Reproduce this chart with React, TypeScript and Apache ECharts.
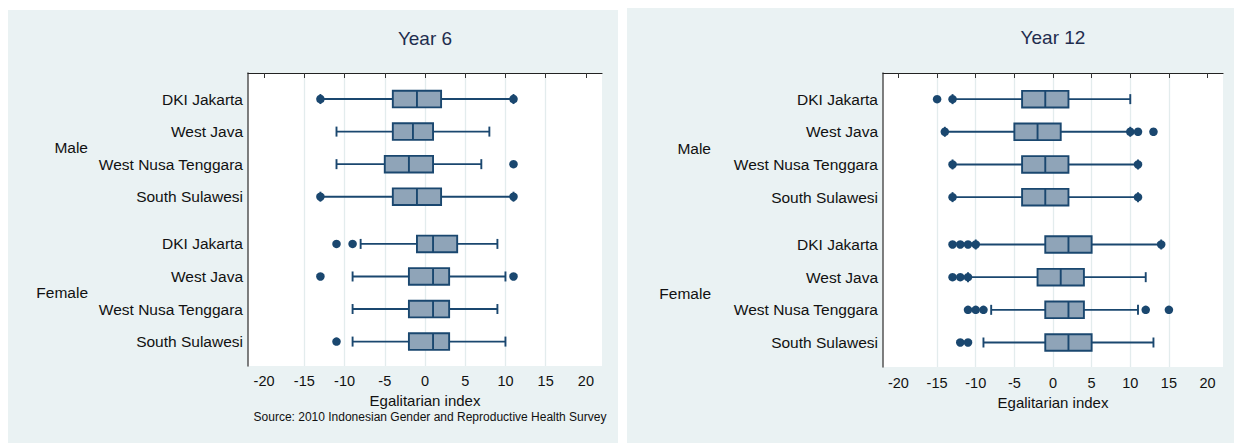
import React, { useEffect, useRef } from "react";
import * as echarts from "echarts";

// Row and group labels
const regions = ["DKI Jakarta", "West Java", "West Nusa Tenggara", "South Sulawesi"];
const sexes = ["Male", "Female"];
const panelTitles = ["Year 6", "Year 12"];
const axisTitle = "Egalitarian index";
const sourceNote = "Source: 2010 Indonesian Gender and Reproductive Health Survey";
const tickValues = [-20, -15, -10, -5, 0, 5, 10, 15, 20];
const gridValues = [-15, -10, -5, 0, 5, 10, 15];

// Year 6 box statistics (Male rows first, then Female rows)
const y6Low = [-13, -11, -11, -13, -8, -9, -9, -9];
const y6Q1 = [-4, -4, -5, -4, -1, -2, -2, -2];
const y6Median = [-1, -1.5, -2, -1, 1, 1, 1, 1];
const y6Q3 = [2, 1, 1, 2, 4, 3, 3, 3];
const y6High = [11, 8, 7, 11, 9, 10, 9, 10];
const y6Outliers = [[-13, 11], [], [11], [-13, 11], [-11, -9], [-13, 11], [], [-11]];

// Year 12 box statistics
const y12Low = [-13, -14, -13, -13, -10, -11, -8, -9];
const y12Q1 = [-4, -5, -4, -4, -1, -2, -1, -1];
const y12Median = [-1, -2, -1, -1, 2, 1, 2, 2];
const y12Q3 = [2, 1, 2, 2, 5, 4, 4, 5];
const y12High = [10, 10, 11, 11, 14, 12, 11, 13];
const y12Outliers = [
  [-15, -13],
  [-14, 10, 11, 13],
  [-13, 11],
  [-13, 11],
  [-13, -12, -11, -10, 14],
  [-13, -12, -11],
  [-11, -10, -9, 12, 15],
  [-12, -11],
];

// vertical slot of each row on the (inverted) value axis
const rowPos = [0.8, 1.8, 2.8, 3.8, 5.25, 6.25, 7.25, 8.25];
const groupPos = [2.3, 6.75];

const FONT = "'Liberation Sans', Arial, Helvetica, sans-serif";
const NAVY = "#1a476f";
const BOX_FILL = "#8fa4b8";
const PANEL_BG = "#eaf2f3";
const GRID_LINE = "#e3eced";

function App() {
  const ref = useRef<HTMLDivElement>(null);

  useEffect(() => {
    if (!ref.current) return;
    const chart = echarts.init(ref.current, null, { renderer: "svg" });

    const panels = [
      { low: y6Low, q1: y6Q1, med: y6Median, q3: y6Q3, high: y6High, out: y6Outliers },
      { low: y12Low, q1: y12Q1, med: y12Median, q3: y12Q3, high: y12High, out: y12Outliers },
    ];
    const grids = [
      { left: 248, top: 73, width: 354, height: 293 },
      { left: 883, top: 73, width: 340, height: 294 },
    ];
    const groupLabelRight = [88, 711];
    const tickMargin = [7, 8];

    const rowLabel = (v: number) => {
      const i = rowPos.findIndex((p) => Math.abs(p - v) < 1e-6);
      return i < 0 ? "" : regions[i % 4];
    };
    const groupLabel = (v: number) => {
      const i = groupPos.findIndex((p) => Math.abs(p - v) < 1e-6);
      return i < 0 ? "" : sexes[i];
    };

    const xAxes: any[] = [];
    const yAxes: any[] = [];
    const series: any[] = [];

    panels.forEach((p, gi) => {
      xAxes.push({
        type: "value",
        gridIndex: gi,
        min: -22,
        max: 22,
        name: axisTitle,
        nameLocation: "middle",
        nameGap: 25,
        nameTextStyle: { fontFamily: FONT, fontSize: 15, color: "#111" },
        axisLine: { show: true, lineStyle: { color: "#222", width: 1.2 } },
        axisTick: { show: true, customValues: tickValues, length: 5, lineStyle: { color: "#333", width: 1 } },
        axisLabel: {
          customValues: tickValues,
          fontFamily: FONT,
          fontSize: 14.5,
          color: "#111",
          margin: tickMargin[gi],
        },
        splitLine: { show: false },
      });
      yAxes.push({
        type: "value",
        gridIndex: gi,
        inverse: true,
        min: 0,
        max: 9,
        axisLine: { show: true, onZero: false, lineStyle: { color: "#555", width: 1.5 } },
        axisTick: { show: false },
        splitLine: { show: false },
        axisLabel: {
          customValues: rowPos,
          formatter: rowLabel,
          fontFamily: FONT,
          fontSize: 15.5,
          color: "#111",
          margin: 5,
        },
      });
      yAxes.push({
        type: "value",
        gridIndex: gi,
        inverse: true,
        min: 0,
        max: 9,
        position: "left",
        offset: grids[gi].left - groupLabelRight[gi] - 8,
        axisLine: { show: false },
        axisTick: { show: false },
        splitLine: { show: false },
        axisLabel: {
          customValues: groupPos,
          formatter: groupLabel,
          fontFamily: FONT,
          fontSize: 15.5,
          color: "#111",
          margin: 8,
        },
      });

      // light vertical reference lines
      series.push({
        type: "scatter",
        xAxisIndex: gi,
        yAxisIndex: gi * 2,
        data: [],
        z: 0,
        silent: true,
        markLine: {
          silent: true,
          z: 0,
          symbol: ["none", "none"],
          label: { show: false },
          lineStyle: { color: GRID_LINE, width: 1.3, type: "solid", opacity: 1 },
          data: gridValues.map((v) => ({ xAxis: v })),
        },
      });

      // boxes and whiskers
      series.push({
        type: "custom",
        xAxisIndex: gi,
        yAxisIndex: gi * 2,
        z: 2,
        silent: true,
        data: rowPos.map((pos, i) => [pos, p.low[i], p.q1[i], p.med[i], p.q3[i], p.high[i]]),
        renderItem: (_params: any, api: any) => {
          const pos = api.value(0);
          const [xLow, y] = api.coord([api.value(1), pos]);
          const xQ1 = api.coord([api.value(2), pos])[0];
          const xMed = api.coord([api.value(3), pos])[0];
          const xQ3 = api.coord([api.value(4), pos])[0];
          const xHigh = api.coord([api.value(5), pos])[0];
          const hb = 8.3;
          const hc = 5;
          const line = { stroke: NAVY, lineWidth: 1.9 };
          return {
            type: "group",
            children: [
              { type: "line", shape: { x1: xLow, y1: y, x2: xQ1, y2: y }, style: line },
              { type: "line", shape: { x1: xQ3, y1: y, x2: xHigh, y2: y }, style: line },
              { type: "line", shape: { x1: xLow, y1: y - hc, x2: xLow, y2: y + hc }, style: line },
              { type: "line", shape: { x1: xHigh, y1: y - hc, x2: xHigh, y2: y + hc }, style: line },
              {
                type: "rect",
                shape: { x: xQ1, y: y - hb, width: xQ3 - xQ1, height: hb * 2 },
                style: { fill: BOX_FILL, stroke: NAVY, lineWidth: 1.9 },
              },
              { type: "line", shape: { x1: xMed, y1: y - hb, x2: xMed, y2: y + hb }, style: line },
            ],
          };
        },
      });

      // outside values
      const pts: number[][] = [];
      p.out.forEach((vals, i) => vals.forEach((v) => pts.push([v, rowPos[i]])));
      series.push({
        type: "scatter",
        xAxisIndex: gi,
        yAxisIndex: gi * 2,
        z: 3,
        silent: true,
        symbol: "circle",
        symbolSize: 8.5,
        itemStyle: { color: NAVY, opacity: 1 },
        data: pts,
      });
    });

    chart.setOption({
      animation: false,
      backgroundColor: "#ffffff",
      grid: grids.map((g) => ({
        ...g,
        show: true,
        backgroundColor: "#ffffff",
        borderWidth: 0,
        containLabel: false,
      })),
      xAxis: xAxes,
      yAxis: yAxes,
      series,
      graphic: [
        { type: "rect", z: -10, silent: true, shape: { x: 8, y: 10, width: 610, height: 433 }, style: { fill: PANEL_BG } },
        { type: "rect", z: -10, silent: true, shape: { x: 627, y: 8, width: 607, height: 435 }, style: { fill: PANEL_BG } },
        {
          type: "text",
          x: 425,
          y: 38,
          style: { text: panelTitles[0], font: `19px ${FONT}`, fill: "#1f2d4e", textAlign: "center", textVerticalAlign: "middle", align: "center", verticalAlign: "middle" },
        },
        {
          type: "text",
          x: 1053,
          y: 37,
          style: { text: panelTitles[1], font: `19px ${FONT}`, fill: "#1f2d4e", textAlign: "center", textVerticalAlign: "middle", align: "center", verticalAlign: "middle" },
        },
        {
          type: "text",
          x: 430,
          y: 417,
          style: { text: sourceNote, font: `12px ${FONT}`, fill: "#111", textAlign: "center", textVerticalAlign: "middle", align: "center", verticalAlign: "middle" },
        },
      ],
    });

    return () => chart.dispose();
  }, []);

  return (
    <div
      ref={ref}
      style={{ position: "fixed", left: 0, top: 0, width: 1234, height: 444 }}
    />
  );
}

export default App;
